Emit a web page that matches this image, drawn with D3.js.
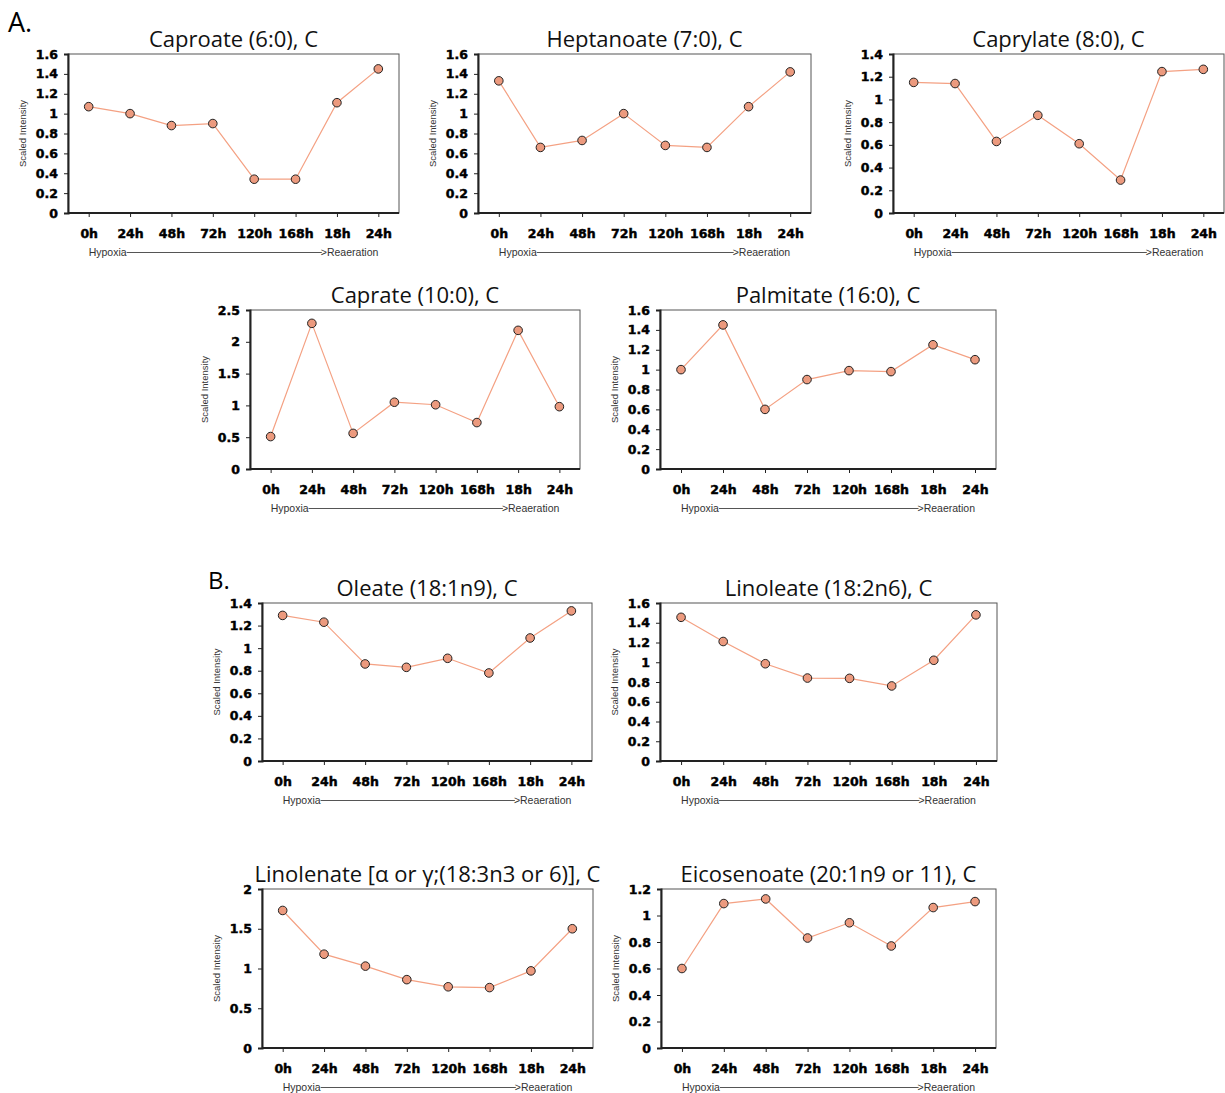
<!DOCTYPE html>
<html>
<head>
<meta charset="utf-8">
<script src="https://cdn.jsdelivr.net/npm/d3@7"></script>
<style>
  body { margin: 0; background: #fff; }
  svg { display: block; }
</style>
</head>
<body>
<div id="chart"></div>
<script>
// time points, same for every panel
const timePoints = ['0h', '24h', '48h', '72h', '120h', '168h', '18h', '24h'];

const titles = [
    'Caproate (6:0), C',
    'Heptanoate (7:0), C',
    'Caprylate (8:0), C',
    'Caprate (10:0), C',
    'Palmitate (16:0), C',
    'Oleate (18:1n9), C',
    'Linoleate (18:2n6), C',
    'Linolenate [\u03B1 or \u03B3;(18:3n3 or 6)], C',
    'Eicosenoate (20:1n9 or 11), C'
];

// y axis max and tick step per panel
const yMaxes = [1.6, 1.6, 1.4, 2.5, 1.6, 1.4, 1.6, 2, 1.2];
const ySteps = [0.2, 0.2, 0.2, 0.5, 0.2, 0.2, 0.2, 0.5, 0.2];

// values
const caproate    = [1.07, 1.00, 0.88, 0.90, 0.34, 0.34, 1.11, 1.45];
const heptanoate  = [1.33, 0.66, 0.73, 1.00, 0.68, 0.66, 1.07, 1.42];
const caprylate   = [1.15, 1.14, 0.63, 0.86, 0.61, 0.29, 1.245, 1.265];
const caprate     = [0.51, 2.29, 0.56, 1.05, 1.01, 0.73, 2.18, 0.98];
const palmitate   = [1.00, 1.45, 0.60, 0.90, 0.99, 0.98, 1.25, 1.10];
const oleate      = [1.29, 1.23, 0.86, 0.83, 0.91, 0.78, 1.09, 1.33];
const linoleate   = [1.455, 1.21, 0.985, 0.84, 0.837, 0.76, 1.02, 1.48];
const linolenate  = [1.73, 1.18, 1.03, 0.86, 0.77, 0.76, 0.97, 1.50];
const eicosenoate = [0.60, 1.09, 1.125, 0.83, 0.945, 0.77, 1.06, 1.105];

const series = [caproate, heptanoate, caprylate, caprate, palmitate,
                oleate, linoleate, linolenate, eicosenoate];

// plot box of each panel: left, top, width, height
const boxes = [
    [68, 54, 331, 159],
    [478, 54, 333, 159],
    [893, 54, 331, 159],
    [250, 310, 330, 159],
    [660, 310, 336, 159],
    [262, 603, 330, 158],
    [660, 603, 337, 158],
    [262, 889, 331, 159],
    [661, 889, 335, 159]
];

const W = 1225, H = 1093;
const lineColor = '#f4a183';
const dotColor = '#ec9a7e';
const tickFont = '"DejaVu Sans", sans-serif';
const titleFont = '"Open Sans", sans-serif';
const smallFont = '"Liberation Sans", Arial, sans-serif';

const svg = d3.select('#chart')
    .append('svg')
    .attr('width', W)
    .attr('height', H);

// section letters
svg.append('text')
    .attr('x', 8).attr('y', 32)
    .style('font-family', titleFont)
    .style('font-size', '27px')
    .text('A.');
svg.append('text')
    .attr('x', 208).attr('y', 589)
    .style('font-family', titleFont)
    .style('font-size', '24px')
    .text('B.');

// heavy tick label look
function styleTicks(sel) {
    sel.style('font-family', tickFont)
        .style('font-weight', 'bold')
        .style('font-size', '12.5px')
        .style('fill', '#000')
        .style('stroke', '#000')
        .style('stroke-width', 0.45);
}

function drawPanel(i) {
    const [left, top, width, height] = boxes[i];
    const values = series[i];

    const g = svg.append('g')
        .attr('transform', `translate(${left}, ${top})`);

    const x = d3.scalePoint()
        .domain(d3.range(timePoints.length))
        .range([0, width])
        .padding(0.5);

    const y = d3.scaleLinear()
        .domain([0, yMaxes[i]])
        .range([height, 0]);

    const ticks = d3.range(0, yMaxes[i] + ySteps[i] / 2, ySteps[i])
        .map(d => +d.toFixed(2));

    // frame
    g.append('rect')
        .attr('x', 0).attr('y', 0)
        .attr('width', width).attr('height', height)
        .style('fill', 'none')
        .style('stroke', '#555')
        .style('stroke-width', 1);

    // Y axis
    const yAxis = g.append('g')
        .call(d3.axisLeft(y).tickValues(ticks).tickSize(4).tickPadding(6)
            .tickFormat(d => String(d)));
    yAxis.select('.domain').style('stroke', '#222').style('stroke-width', 2);
    yAxis.selectAll('.tick line').style('stroke', '#222');
    styleTicks(yAxis.selectAll('text'));

    // X axis
    const xAxis = g.append('g')
        .attr('transform', `translate(0, ${height})`)
        .call(d3.axisBottom(x).tickSize(4).tickPadding(12)
            .tickFormat(d => timePoints[d]));
    xAxis.select('.domain')
        .attr('d', `M0,0H${width}`)
        .style('stroke', '#222').style('stroke-width', 2);
    xAxis.selectAll('.tick line').style('stroke', '#222');
    styleTicks(xAxis.selectAll('text'));

    // y axis title
    g.append('text')
        .attr('transform', `translate(${-42}, ${height / 2}) rotate(-90)`)
        .attr('text-anchor', 'middle')
        .style('font-family', smallFont)
        .style('font-size', '9.5px')
        .style('fill', '#333')
        .text('Scaled Intensity');

    // chart title
    g.append('text')
        .attr('x', width / 2)
        .attr('y', -7)
        .attr('text-anchor', 'middle')
        .style('font-family', titleFont)
        .style('font-size', '22px')
        .style('fill', '#111')
        .text(titles[i]);

    // Hypoxia ------> Reaeration
    const x0 = x(0), x1 = x(timePoints.length - 1);
    const ty = height + 43;
    const hyp = g.append('text')
        .attr('x', x0).attr('y', ty)
        .style('font-family', smallFont)
        .style('font-size', '10.5px')
        .style('fill', '#333')
        .text('Hypoxia');
    const rea = g.append('text')
        .attr('x', x1).attr('y', ty)
        .attr('text-anchor', 'end')
        .style('font-family', smallFont)
        .style('font-size', '10.5px')
        .style('fill', '#333')
        .text('>Reaeration');
    const hw = hyp.node().getComputedTextLength();
    const rw = rea.node().getComputedTextLength();
    g.append('line')
        .attr('x1', x0 + hw).attr('x2', x1 - rw + 1)
        .attr('y1', ty - 3.5).attr('y2', ty - 3.5)
        .style('stroke', '#555')
        .style('stroke-width', 1);

    // the line
    const line = d3.line()
        .x((d, j) => x(j))
        .y(d => y(d));
    g.append('path')
        .datum(values)
        .attr('d', line)
        .style('fill', 'none')
        .style('stroke', lineColor)
        .style('stroke-width', 1.2);

    // dots
    g.append('g')
        .selectAll('circle')
        .data(values)
        .enter()
        .append('circle')
        .attr('cx', (d, j) => x(j))
        .attr('cy', d => y(d))
        .attr('r', 4.3)
        .style('fill', dotColor)
        .style('stroke', '#222')
        .style('stroke-width', 1);
}

for (let i = 0; i < series.length; i++) {
    drawPanel(i);
}
</script>
</body>
</html>
